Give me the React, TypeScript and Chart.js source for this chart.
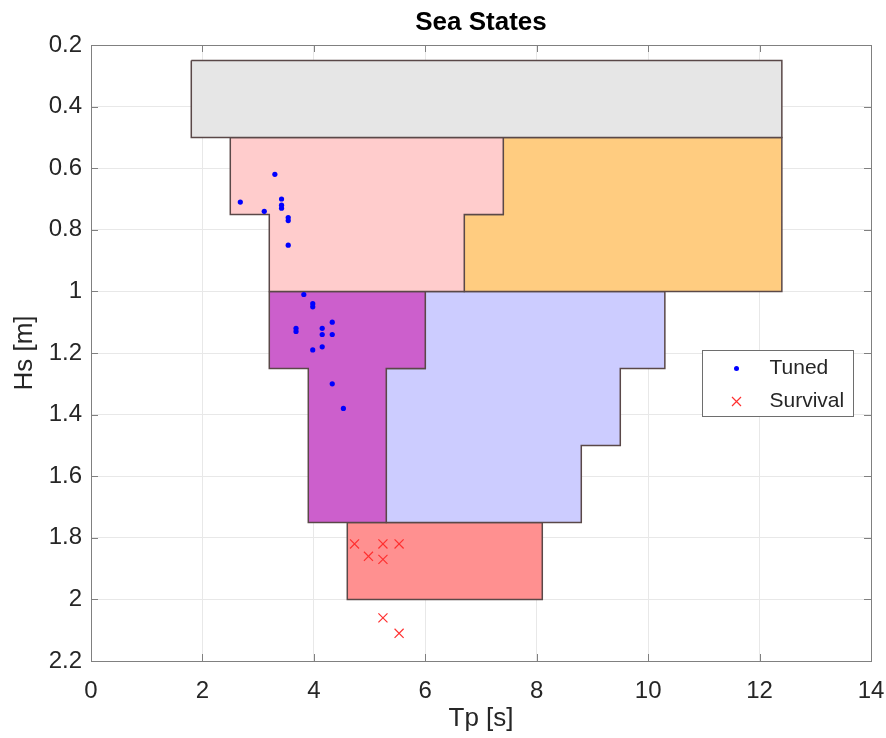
import React, { useEffect, useRef } from "react";
import { Chart, registerables } from "chart.js";

Chart.register(...registerables);

// ---- Data ----
const regionNames = ["Calm", "Low A", "Low B", "Mid A", "Mid B", "High"];
const regionTp: number[][] = [
  [1.8, 12.4, 12.4, 1.8, 1.8],
  [2.5, 7.4, 7.4, 6.7, 6.7, 3.2, 3.2, 2.5, 2.5],
  [7.4, 12.4, 12.4, 6.7, 6.7, 7.4, 7.4],
  [3.2, 6.0, 6.0, 5.3, 5.3, 3.9, 3.9, 3.2, 3.2],
  [6.0, 10.3, 10.3, 9.5, 9.5, 8.8, 8.8, 5.3, 5.3, 6.0, 6.0],
  [4.6, 8.1, 8.1, 4.6, 4.6],
];
const regionHs: number[][] = [
  [0.25, 0.25, 0.5, 0.5, 0.25],
  [0.5, 0.5, 0.75, 0.75, 1.0, 1.0, 0.75, 0.75, 0.5],
  [0.5, 0.5, 1.0, 1.0, 0.75, 0.75, 0.5],
  [1.0, 1.0, 1.25, 1.25, 1.75, 1.75, 1.25, 1.25, 1.0],
  [1.0, 1.0, 1.25, 1.25, 1.5, 1.5, 1.75, 1.75, 1.25, 1.25, 1.0],
  [1.75, 1.75, 2.0, 2.0, 1.75],
];
const regionColors = ["#e6e6e6", "#ffcccc", "#ffcc80", "#cc5fcc", "#ccccff", "#ff9090"];

const tunedTp = [3.30, 2.68, 3.42, 3.42, 3.42, 3.11, 3.54, 3.54, 3.54, 3.82, 3.98, 3.98, 3.68, 3.68, 4.15, 4.15, 4.33, 4.33, 4.15, 3.98, 4.33, 4.53];
const tunedHs = [0.62, 0.71, 0.70, 0.72, 0.73, 0.74, 0.76, 0.77, 0.85, 1.01, 1.04, 1.05, 1.12, 1.13, 1.12, 1.14, 1.10, 1.14, 1.18, 1.19, 1.30, 1.38];

const survivalTp = [4.73, 5.24, 5.53, 4.98, 5.24, 5.24, 5.53];
const survivalHs = [1.82, 1.82, 1.82, 1.86, 1.87, 2.06, 2.11];

const xTicks = [0, 2, 4, 6, 8, 10, 12, 14];
const yTicks = [0.2, 0.4, 0.6, 0.8, 1, 1.2, 1.4, 1.6, 1.8, 2, 2.2];

const FONT = "'Liberation Sans', Arial, sans-serif";
const TEXT = "#262626";
const FRAME = "#808080";

const framePlugin = {
  id: "frameAndLegend",
  afterDraw(chart: any) {
    const { ctx, chartArea: a, scales } = chart;
    ctx.save();
    // frame
    ctx.strokeStyle = FRAME;
    ctx.lineWidth = 1;
    ctx.strokeRect(Math.round(a.left) + 0.5, Math.round(a.top) + 0.5, Math.round(a.right - a.left), Math.round(a.bottom - a.top));
    // inward ticks
    const tl = 7;
    ctx.beginPath();
    xTicks.forEach((v) => {
      const px = Math.round(scales.x.getPixelForValue(v)) + 0.5;
      ctx.moveTo(px, a.bottom);
      ctx.lineTo(px, a.bottom - tl);
      ctx.moveTo(px, a.top);
      ctx.lineTo(px, a.top + tl);
    });
    yTicks.forEach((v) => {
      const py = Math.round(scales.y.getPixelForValue(v)) + 0.5;
      ctx.moveTo(a.left, py);
      ctx.lineTo(a.left + tl, py);
      ctx.moveTo(a.right, py);
      ctx.lineTo(a.right - tl, py);
    });
    ctx.stroke();

    // legend
    const bw = 151, bh = 66;
    const bx = Math.round(a.right - 18 - bw) + 0.5;
    const by = Math.round(a.top + 305) + 0.5;
    ctx.fillStyle = "#ffffff";
    ctx.fillRect(bx, by, bw, bh);
    ctx.strokeStyle = "#6e6e6e";
    ctx.strokeRect(bx, by, bw, bh);
    const mx = bx + 34;
    const tx = bx + 67;
    const y1 = by + 18;
    const y2 = by + 51;
    ctx.fillStyle = "#0000ff";
    ctx.beginPath();
    ctx.arc(mx, y1, 2.5, 0, Math.PI * 2);
    ctx.fill();
    ctx.strokeStyle = "#ff3030";
    ctx.lineWidth = 1.2;
    ctx.beginPath();
    ctx.moveTo(mx - 4.5, y2 - 4.5);
    ctx.lineTo(mx + 4.5, y2 + 4.5);
    ctx.moveTo(mx + 4.5, y2 - 4.5);
    ctx.lineTo(mx - 4.5, y2 + 4.5);
    ctx.stroke();
    ctx.fillStyle = TEXT;
    ctx.font = `21px ${FONT}`;
    ctx.textBaseline = "middle";
    ctx.textAlign = "left";
    ctx.fillText("Tuned", tx, y1);
    ctx.fillText("Survival", tx, y2);
    ctx.restore();
  },
};

export default function App() {
  const ref = useRef<HTMLCanvasElement | null>(null);
  useEffect(() => {
    document.body.style.margin = "0";
    if (!ref.current) return;
    const polygonSets = regionNames.map((name, i) => ({
      label: name,
      data: regionTp[i].map((x, j) => ({ x, y: regionHs[i][j] })),
      showLine: true,
      fill: "shape",
      backgroundColor: regionColors[i],
      borderColor: "#5a4848",
      borderWidth: 1.5,
      pointRadius: 0,
      pointHoverRadius: 0,
      tension: 0,
      order: 1,
    }));
    const chart = new Chart(ref.current, {
      type: "scatter",
      data: {
        datasets: [
          {
            label: "Tuned",
            data: tunedTp.map((x, i) => ({ x, y: tunedHs[i] })),
            pointStyle: "circle",
            pointRadius: 2.6,
            backgroundColor: "#0000ff",
            borderColor: "#0000ff",
            borderWidth: 0,
            order: 0,
          },
          {
            label: "Survival",
            data: survivalTp.map((x, i) => ({ x, y: survivalHs[i] })),
            pointStyle: "crossRot",
            pointRadius: 6.4,
            borderColor: "#ff3030",
            backgroundColor: "#ff3030",
            borderWidth: 1.2,
            order: 0,
          },
          ...polygonSets,
        ] as any,
      },
      options: {
        responsive: false,
        animation: false,
        devicePixelRatio: 1,
        layout: { padding: { left: 0, right: 0, top: 0, bottom: 0 } },
        plugins: {
          legend: { display: false },
          tooltip: { enabled: false },
          title: {
            display: true,
            fullSize: false,
            text: "Sea States",
            color: "#000000",
            font: { family: FONT, size: 26, weight: "bold" },
            padding: { top: 7, bottom: 6.8 },
          },
        },
        scales: {
          x: {
            type: "linear",
            min: 0,
            max: 14,
            afterBuildTicks: (s: any) => {
              s.ticks = xTicks.map((v) => ({ value: v }));
            },
            afterFit: (s: any) => {
              s.height = 77;
              s.paddingRight = 15;
              s.paddingLeft = 0;
            },
            ticks: {
              color: TEXT,
              font: { family: FONT, size: 24 },
              padding: 16,
              maxRotation: 0,
              autoSkip: false,
            },
            grid: { color: "#e8e8e8", drawTicks: false },
            border: { display: false },
            title: {
              display: true,
              text: "Tp [s]",
              color: TEXT,
              font: { family: FONT, size: 26 },
              padding: { top: 0, bottom: 4 },
            },
          },
          y: {
            type: "linear",
            reverse: true,
            min: 0.2,
            max: 2.2,
            afterBuildTicks: (s: any) => {
              s.ticks = yTicks.map((v) => ({ value: v }));
            },
            afterFit: (s: any) => {
              s.width = 91;
            },
            ticks: {
              color: TEXT,
              font: { family: FONT, size: 24 },
              padding: 9,
              autoSkip: false,
              callback: (v: any) => String(Math.round(Number(v) * 10) / 10),
            },
            grid: { color: "#e8e8e8", drawTicks: false },
            border: { display: false },
            title: {
              display: true,
              text: "Hs [m]",
              color: TEXT,
              font: { family: FONT, size: 26 },
              padding: { top: 9, bottom: 0 },
            },
          },
        },
      },
      plugins: [framePlugin],
    });
    return () => chart.destroy();
  }, []);
  return (
    <div style={{ width: 886, height: 738, position: "relative" }}>
      <canvas ref={ref} width={886} height={738} style={{ display: "block" }} />
    </div>
  );
}
